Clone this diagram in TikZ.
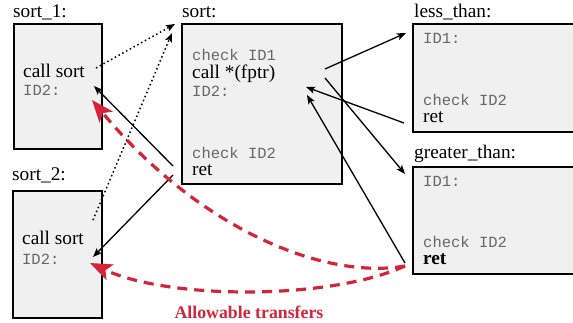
\documentclass[tikz,border=0pt]{standalone}
\usepackage{fontspec}
\setmainfont{Liberation Serif}
\setmonofont{Liberation Mono}
\usetikzlibrary{arrows.meta}
\definecolor{boxfill}{HTML}{F0F0F0}
\definecolor{monogray}{HTML}{666666}
\definecolor{allowred}{RGB}{212,36,58}
\tikzset{
  codebox/.style={draw=black, line width=1.6pt, fill=boxfill, inner sep=0pt},
  lbl/.style={anchor=base west, inner sep=0pt, font=\fontsize{19.3}{22}\selectfont},
  txt/.style={anchor=base west, inner sep=0pt, font=\fontsize{19.3}{22}\selectfont},
  mono/.style={anchor=base west, inner sep=0pt, text=monogray, font=\ttfamily\fontsize{15.5}{18}\selectfont},
  flow/.style={line width=1.3pt, -{Stealth[length=9pt,width=7pt,inset=2pt]}},
  callflow/.style={line width=1.5pt, dash pattern=on 1.5pt off 2.8pt, -{Stealth[length=9pt,width=7pt,inset=2pt]}},
  allowed/.style={allowred, line width=3.2pt, dash pattern=on 10pt off 7pt, -{Stealth[length=22pt,width=17pt,inset=5pt]}}
}
\begin{document}
\begin{tikzpicture}[x=1pt,y=-1pt]
\useasboundingbox (0,0) rectangle (573,322);
\clip (0,0) rectangle (573,322);
% boxes
\node[codebox, minimum width=88pt, minimum height=125pt] (b1) at (58,86.5) {};
\node[codebox, minimum width=160pt, minimum height=160pt] (bs) at (262,104) {};
\node[codebox, minimum width=170pt, minimum height=108pt] (bl) at (498,78) {};
\node[codebox, minimum width=170pt, minimum height=107pt] (bg) at (498,220.5) {};
\node[codebox, minimum width=89pt, minimum height=127pt] (b2) at (57.5,254.5) {};
% labels
\node[lbl] (l1) at (13,17) {sort\_1:};
\node[lbl] (ls) at (182,17) {sort:};
\node[lbl] (ll) at (414,17) {less\_than:};
\node[lbl] (lg) at (414,158) {greater\_than:};
\node[lbl] (l2) at (12,180) {sort\_2:};
% sort_1
\node[txt] (c1) at (23,77) {call sort};
\node[mono] (i1) at (23,95) {ID2:};
% sort
\node[mono] (sc1) at (192,60) {check ID1};
\node[txt] (scall) at (192,78) {call *(fptr)};
\node[mono] (sid) at (192,96) {ID2:};
\node[mono] (sc2) at (192,158) {check ID2};
\node[txt] (sret) at (192,175) {ret};
% less_than
\node[mono] (lid) at (423,43) {ID1:};
\node[mono] (lc2) at (423,105) {check ID2};
\node[txt] (lret) at (423,122) {ret};
% greater_than
\node[mono] (gid) at (423,186) {ID1:};
\node[mono] (gc2) at (423,247) {check ID2};
\node[txt, font=\bfseries\fontsize{19.3}{22}\selectfont] (gret) at (423,264) {ret};
% sort_2
\node[txt] (c2) at (22,244) {call sort};
\node[mono] (i2) at (22,264) {ID2:};
% caption
\node[anchor=base, inner sep=0pt, text=allowred, font=\bfseries\fontsize{17.8}{20}\selectfont] (cap) at (249,318) {Allowable transfers};
% connector end points
\coordinate (c1out) at (96,68);
\coordinate (sin1) at (175,24);
\coordinate (c2out) at (93,220);
\coordinate (sin2) at (172,33);
\coordinate (sretA) at (173,166);
\coordinate (sretB) at (173,175);
\coordinate (i1in) at (94,86);
\coordinate (i2in) at (93,257);
\coordinate (fpA) at (325,69);
\coordinate (fpB) at (325,78);
\coordinate (lin) at (406,33);
\coordinate (gin) at (405,174);
\coordinate (lretout) at (404,123);
\coordinate (gretout) at (405,263);
\coordinate (sidA) at (306,87);
\coordinate (sidB) at (307,95);
\coordinate (gretred) at (405,266);
\coordinate (i1red) at (92,100);
\coordinate (i2red) at (90,263);
% calls (dotted)
\draw[callflow] (c1out) -- (sin1);
\draw[callflow] (c2out) -- (sin2);
% returns / calls (solid)
\draw[flow] (sretA) -- (i1in);
\draw[flow] (sretB) -- (i2in);
\draw[flow] (fpA) -- (lin);
\draw[flow] (fpB) -- (gin);
\draw[flow] (lretout) -- (sidA);
\draw[flow] (gretout) -- (sidB);
% allowable transfers (red dashed)
\draw[allowed] (gretred) .. controls (325,280) and (200,230) .. (i1red);
\draw[allowed] (gretred) .. controls (330,300) and (170,300) .. (i2red);
\end{tikzpicture}
\end{document}
